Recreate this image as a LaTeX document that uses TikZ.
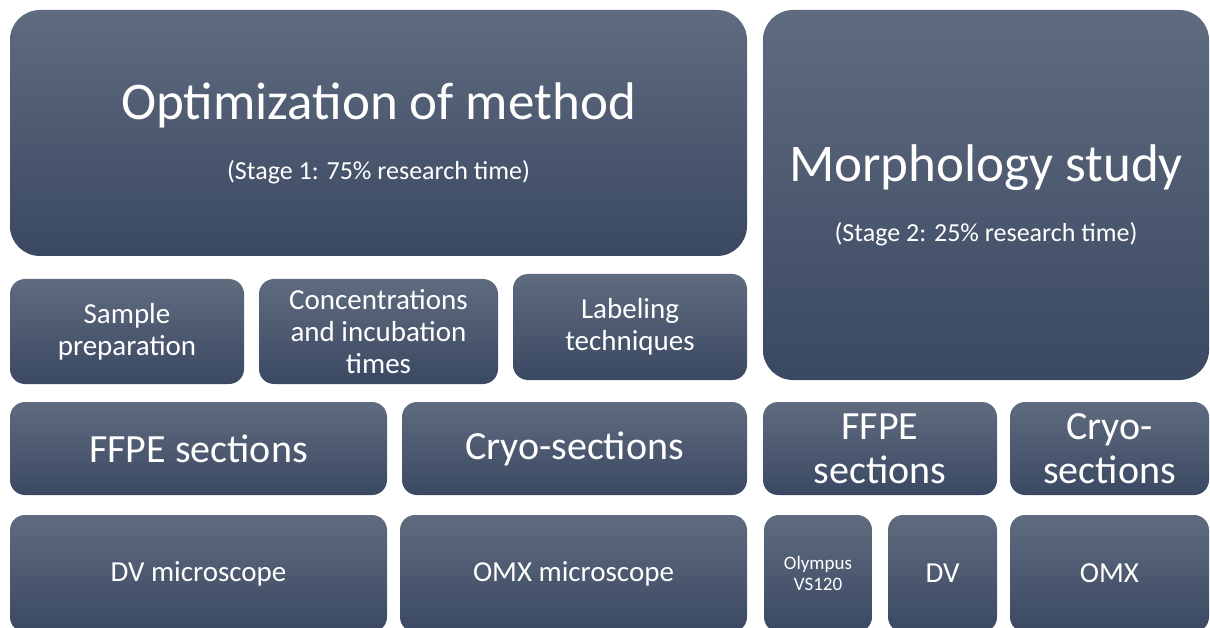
\documentclass[tikz,border=0pt]{standalone}
\usepackage{fontspec}
\setmainfont{Carlito}
\usepackage{tikz}
\usetikzlibrary{positioning}

\definecolor{boxtop}{RGB}{95,107,126}
\definecolor{boxbot}{RGB}{58,72,98}

\tikzset{
    box/.style={rectangle, rounded corners=15pt, top color=boxtop, bottom color=boxbot,
        draw=none, text=white, align=center, inner sep=0pt},
    bigbox/.style={box, rounded corners=30pt},
    title/.style={text=white, font=\fontsize{53}{60}\selectfont},
    subtitle/.style={text=white, font=\fontsize{26}{30}\selectfont},
    txtL/.style={font=\fontsize{40}{44}\selectfont},
    txtM/.style={font=\fontsize{29}{32}\selectfont},
    txtS/.style={font=\fontsize{19}{21}\selectfont}
}

\begin{document}
\begin{tikzpicture}[x=1pt, y=-1pt]
\useasboundingbox (0,0) rectangle (1210,628);
\clip (0,0) rectangle (1210,628);

% Stage boxes
\node[bigbox, minimum width=737, minimum height=246] (opt) at (378.5,133){};
\node[bigbox, minimum width=446, minimum height=370] (morph) at (986,195){};
\node[title] (opttitle) at ([yshift=28]opt.center){Optimization of method};
\node[subtitle] (optsub) at ([yshift=-39]opt.center){(Stage 1: 75\% research time)};
\node[title] (morphtitle) at ([yshift=27]morph.center){Morphology study};
\node[subtitle] (morphsub) at ([yshift=-39]morph.center){(Stage 2: 25\% research time)};

% Optimization topics
\node[box, txtM, minimum width=234, minimum height=105] (samp) at (127,331.5){Sample\\preparation};
\node[box, txtM, minimum width=239, minimum height=105] (conc) at (378.5,331.5){Concentrations\\and incubation\\times};
\node[box, txtM, minimum width=234, minimum height=106] (lab) at (630,327){Labeling\\techniques};

% Sections
\node[box, txtL, minimum width=377, minimum height=93] (ffpeA) at (198.5,448.5){FFPE sections};
\node[box, txtL, minimum width=345, minimum height=93] (cryoA) at (574.5,448.5){Cryo-sections};
\node[box, txtL, minimum width=234, minimum height=93] (ffpeB) at (880,448.5){FFPE\\sections};
\node[box, txtL, minimum width=199, minimum height=93] (cryoB) at (1109.5,448.5){Cryo-\\sections};

% Microscopes
\node[box, txtM, minimum width=377, minimum height=117] (dvA) at (198.5,573.5){DV microscope};
\node[box, txtM, minimum width=347, minimum height=117] (omxA) at (573.5,573.5){OMX microscope};
\node[box, txtS, minimum width=108, minimum height=117] (oly) at (818,573.5){Olympus\\VS120};
\node[box, txtM, minimum width=109, minimum height=117] (dvB) at (942.5,573.5){DV};
\node[box, txtM, minimum width=199, minimum height=117] (omxB) at (1109.5,573.5){OMX};

\end{tikzpicture}
\end{document}
